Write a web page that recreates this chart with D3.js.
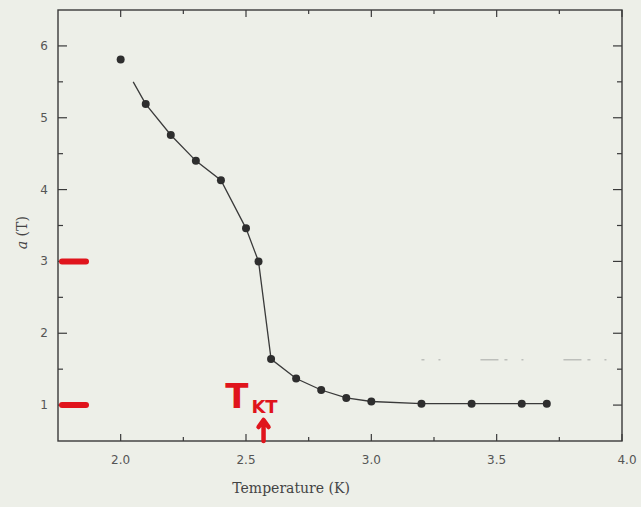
<!DOCTYPE html>
<html>
<head>
<meta charset="utf-8">
<script src="https://cdn.jsdelivr.net/npm/d3@7"></script>
<style>
  body { margin: 0; background: #edefe8; }
  svg { display: block; }
  .tick-label { font-family: "DejaVu Sans", sans-serif; font-size: 12px; fill: #555; }
  .axis-title { font-family: "DejaVu Serif", serif; font-size: 14px; fill: #444; }
</style>
</head>
<body>
<div id="chart"></div>
<script>
// measured points
const temps = [2.0, 2.1, 2.2, 2.3, 2.4, 2.5, 2.55, 2.6, 2.7, 2.8, 2.9, 3.0, 3.2, 3.4, 3.6, 3.7];
const aVals = [5.81, 5.19, 4.76, 4.40, 4.13, 3.46, 3.00, 1.64, 1.37, 1.21, 1.10, 1.05, 1.02, 1.02, 1.02, 1.02];
// guide line (starts a bit past the first point)
const lineT = [2.05, 2.1, 2.2, 2.3, 2.4, 2.5, 2.55, 2.6, 2.7, 2.8, 2.9, 3.0, 3.2, 3.4, 3.6, 3.7];
const lineA = [5.50, 5.19, 4.76, 4.40, 4.13, 3.46, 3.00, 1.64, 1.37, 1.21, 1.10, 1.05, 1.02, 1.02, 1.02, 1.02];
const xTicks = [2.0, 2.5, 3.0, 3.5, 4.0];
const xMinor = [2.25, 2.75, 3.25, 3.75];
const yTicks = [1, 2, 3, 4, 5, 6];
const yMinor = [1.5, 2.5, 3.5, 4.5, 5.5];
// red hand marks
const redMarks = [3, 1];
const tKT = 2.57;

const width = 641, height = 507;
const margin = { top: 10, right: 19, bottom: 66, left: 58 };

const svg = d3.select("#chart").append("svg")
  .attr("width", width)
  .attr("height", height);

const x = d3.scaleLinear().domain([1.75, 4.0]).range([margin.left, width - margin.right]);
const y = d3.scaleLinear().domain([0.5, 6.5]).range([height - margin.bottom, margin.top]);

const ink = "#3a3a3a";

// frame
svg.append("rect")
  .attr("x", x(1.75)).attr("y", y(6.5))
  .attr("width", x(4.0) - x(1.75)).attr("height", y(0.5) - y(6.5))
  .attr("fill", "none").attr("stroke", ink).attr("stroke-width", 1.4);

// faint scan streak
svg.append("line")
  .attr("x1", x(3.2)).attr("x2", width)
  .attr("y1", y(1.63)).attr("y2", y(1.63))
  .attr("stroke", "#8a8a8a").attr("stroke-width", 1)
  .attr("stroke-dasharray", "3 14 2 40 18 6")
  .attr("opacity", 0.7);

// inward ticks on all four sides
const tickG = svg.append("g").attr("stroke", ink).attr("stroke-width", 1.2);
function xTick(v, len) {
  tickG.append("line").attr("x1", x(v)).attr("x2", x(v)).attr("y1", y(0.5)).attr("y2", y(0.5) - len);
  tickG.append("line").attr("x1", x(v)).attr("x2", x(v)).attr("y1", y(6.5)).attr("y2", y(6.5) + len);
}
function yTick(v, len) {
  tickG.append("line").attr("x1", x(1.75)).attr("x2", x(1.75) + len).attr("y1", y(v)).attr("y2", y(v));
  tickG.append("line").attr("x1", x(4.0)).attr("x2", x(4.0) - len).attr("y1", y(v)).attr("y2", y(v));
}
xTicks.forEach(v => xTick(v, 7));
xMinor.forEach(v => xTick(v, 4));
yTicks.forEach(v => yTick(v, 9));
yMinor.forEach(v => yTick(v, 5));

svg.selectAll(".xl").data(xTicks).enter().append("text")
  .attr("class", "tick-label")
  .attr("x", d => x(d) + (d === 4.0 ? 5 : 0))
  .attr("y", y(0.5) + 23)
  .attr("text-anchor", "middle")
  .text(d => d.toFixed(1));

svg.selectAll(".yl").data(yTicks).enter().append("text")
  .attr("class", "tick-label")
  .attr("x", x(1.75) - 10)
  .attr("y", d => y(d) + 4)
  .attr("text-anchor", "end")
  .text(d => d);

svg.append("text")
  .attr("class", "axis-title")
  .attr("x", x(2.68)).attr("y", height - 14)
  .attr("text-anchor", "middle")
  .text("Temperature (K)");

const yt = svg.append("text")
  .attr("class", "axis-title")
  .attr("transform", `translate(27,${y(3.4)}) rotate(-90)`)
  .attr("text-anchor", "middle");
yt.append("tspan").attr("font-style", "italic").text("a");
yt.append("tspan").text(" (T)");

// curve + points
const line = d3.line().x(d => x(d[0])).y(d => y(d[1]));
svg.append("path")
  .datum(lineT.map((t, i) => [t, lineA[i]]))
  .attr("d", line)
  .attr("fill", "none").attr("stroke", ink).attr("stroke-width", 1.3);

svg.selectAll(".pt").data(temps).enter().append("circle")
  .attr("cx", d => x(d))
  .attr("cy", (d, i) => y(aVals[i]))
  .attr("r", 4)
  .attr("fill", "#2e2e2e");

// red hand annotations
const red = "#e0141c";
svg.selectAll(".rm").data(redMarks).enter().append("line")
  .attr("x1", x(1.75) + 4).attr("x2", x(1.75) + 28)
  .attr("y1", d => y(d)).attr("y2", d => y(d))
  .attr("stroke", red).attr("stroke-width", 6).attr("stroke-linecap", "round");

svg.append("text")
  .attr("x", x(tKT) - 15).attr("y", y(0.5) - 33)
  .attr("text-anchor", "end")
  .attr("font-family", "DejaVu Sans, sans-serif").attr("font-weight", "bold")
  .attr("font-size", 34).attr("fill", red)
  .text("T");
svg.append("text")
  .attr("x", x(tKT) + 1).attr("y", y(0.5) - 28)
  .attr("text-anchor", "middle")
  .attr("font-family", "DejaVu Sans, sans-serif").attr("font-weight", "bold")
  .attr("font-size", 18).attr("fill", red)
  .text("KT");
svg.append("path")
  .attr("d", `M${x(tKT)},${y(0.5)} L${x(tKT)},${y(0.5) - 20} M${x(tKT) - 5},${y(0.5) - 14} L${x(tKT)},${y(0.5) - 21} L${x(tKT) + 5},${y(0.5) - 14}`)
  .attr("fill", "none").attr("stroke", red).attr("stroke-width", 4.5)
  .attr("stroke-linecap", "round").attr("stroke-linejoin", "round");
</script>
</body>
</html>
